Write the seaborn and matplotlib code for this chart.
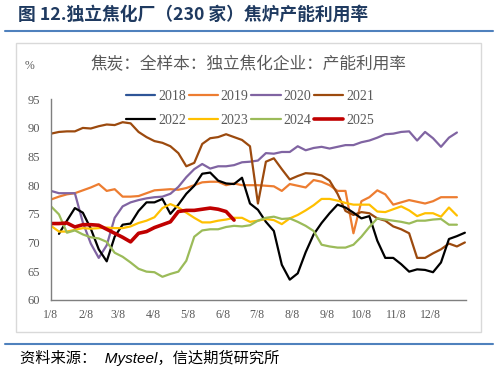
import numpy as np
import pandas as pd
import matplotlib
matplotlib.use("Agg")
import matplotlib.pyplot as plt
from matplotlib.lines import Line2D
from matplotlib.patches import Rectangle
import seaborn as sns

sns.set_theme(style="white")
plt.rcParams["font.family"] = ["Noto Sans CJK SC", "DejaVu Sans"]

NAN = np.nan

# 周度数据（第 0 周 = 1/8），数值读自原图
Y2019 = [77.5, 78.0, 78.4, 78.6, 79.1, 79.6, 80.2, 79.0, 79.3, 78.0, 78.0, 78.1, 78.6, 79.1,
         79.2, 79.3, 79.2, 79.5, 80.0, 80.5, 80.6, 80.6, 80.0, 80.3, 80.0, 80.0, 80.0,
         79.9, 79.8, 79.0, 80.2, 79.9, 79.6, 80.9, 80.6, 80.0, 79.0, 79.0, 71.6, 77.2,
         77.9, 79.1, 78.4, 76.6, 77.0, 77.4, 77.1, 76.8, 77.2, 77.9, 77.9, 77.9]
Y2020 = [79.0, 78.6, 78.6, 78.6, 73.5, 69.8, 67.3, 69.5, 74.3, 76.3, 77.0, 77.4, 77.7, 77.9,
         78.0, 78.5, 79.7, 81.4, 82.8, 83.7, 82.9, 83.3, 83.3, 83.5, 84.0, 84.1, 84.3,
         85.6, 85.5, 85.8, 85.8, 86.8, 86.1, 86.5, 86.7, 86.4, 86.7, 87.0, 87.0, 87.5,
         87.8, 88.3, 88.9, 89.0, 89.3, 89.4, 87.8, 89.3, 88.2, 86.7, 88.3, 89.2]
Y2021 = [89.0, 89.3, 89.4, 89.4, 90.0, 89.9, 90.3, 90.6, 90.5, 91.0, 90.8, 89.3, 88.4, 87.7,
         87.4, 86.8, 85.6, 83.3, 83.9, 87.2, 88.2, 88.4, 88.9, 88.4, 87.9, 86.8, 76.8,
         84.1, 84.7, 82.8, 81.0, 81.6, 82.1, 82.0, 81.7, 80.8, 78.5, 75.5, 74.8, 75.3,
         75.1, 74.2, 73.8, 72.8, 72.3, 71.6, 67.3, 67.3, 68.1, 68.8, 69.8, 69.3, 70.0]
Y2022 = [NAN, 71.5, 73.8, 76.0, 75.2, 72.4, 68.8, 66.7, 71.0, 73.1, 73.3, 75.5, 77.0, 77.0,
         77.6, 75.0, 76.6, 78.5, 79.9, 82.0, 82.2, 80.8, 80.3, 80.2, 81.3, 76.8, 75.7,
         73.6, 72.0, 66.1, 63.5, 64.6, 68.3, 71.4, 73.4, 75.1, 76.6, 76.1, 75.2, 74.2,
         74.6, 70.3, 67.3, 67.3, 66.2, 64.9, 65.3, 65.2, 64.8, 66.5, 70.6, 71.1, 71.7]
Y2023 = [72.9, 71.9, 71.9, 72.2, 72.5, 72.4, 72.5, 72.6, 72.5, 72.5, 72.8, 73.4, 73.8, 74.4,
         76.0, 76.7, 76.1, 75.2, 74.3, 73.5, 73.5, 73.8, 74.0, 74.3, 74.3, 73.6, 73.8,
         74.1, 73.9, 73.2, 74.2, 74.8, 75.6, 76.5, 77.6, 77.6, 77.3, 76.9, 76.6, 76.6,
         76.6, 75.4, 75.3, 75.8, 76.3, 75.6, 74.6, 75.1, 75.1, 74.5, 76.1, 74.7]
Y2024 = [76.3, 74.9, 71.7, 72.1, 71.4, 70.9, 70.7, 70.1, 68.2, 67.5, 66.5, 65.4, 64.9, 64.8,
         64.0, 64.5, 64.9, 66.8, 71.0, 72.1, 72.3, 72.3, 72.7, 72.9, 72.8, 73.0, 73.8,
         74.3, 74.5, 74.1, 74.2, 73.6, 72.9, 72.0, 69.6, 69.3, 69.1, 69.1, 69.6, 71.0,
         72.7, 74.2, 74.0, 73.8, 73.6, 73.3, 73.8, 73.8, 74.0, 74.1, 73.1, 73.1]
Y2025 = [73.3, 73.3, 73.4, 72.7, 73.1, 73.1, 73.0, 72.3, 71.6, 70.9, 70.1, 71.6, 71.9, 72.6,
         73.1, 73.6, 75.4, 75.6, 75.6, 75.8, 76.0, 75.8, 75.4, 73.9]

YEARS = ["2018", "2019", "2020", "2021", "2022", "2023", "2024", "2025"]
SERIES = {"2018": [], "2019": Y2019, "2020": Y2020, "2021": Y2021, "2022": Y2022,
          "2023": Y2023, "2024": Y2024, "2025": Y2025}
COLORS = {"2018": "#2E5597", "2019": "#ED7D31", "2020": "#8064A2", "2021": "#9C4A0E",
          "2022": "#000000", "2023": "#FFC000", "2024": "#9BBB59", "2025": "#C00000"}

TICK_DAYS = [7, 38, 66, 97, 127, 158, 188, 219, 250, 280, 311, 341]
TICK_LABELS = ["1/8", "2/8", "3/8", "4/8", "5/8", "6/8", "7/8", "8/8", "9/8",
               "10/8", "11/8", "12/8"]
Y_TICKS = [60, 65, 70, 75, 80, 85, 90, 95]

GRAY = "#595959"
NAVY = "#1F3A60"
BLUE_LINE = "#4F81BD"

rows = []
for yr in YEARS:
    for i, v in enumerate(SERIES[yr]):
        rows.append({"year": yr, "day": 7 + 7 * i, "value": v})
df = pd.DataFrame(rows, columns=["year", "day", "value"]).dropna()

fig = plt.figure(figsize=(4.98, 3.71), dpi=100)
ax = fig.add_axes([51 / 498, 1 - 299.7 / 371, 415 / 498, 200.4 / 371])

handles = []
for yr in YEARS:
    lw = 2.6 if yr == "2025" else 1.6
    sub = df[df["year"] == yr]
    if len(sub):
        sns.lineplot(data=sub, x="day", y="value", ax=ax, color=COLORS[yr],
                     linewidth=lw, legend=False)
    handles.append(Line2D([], [], color=COLORS[yr], linewidth=lw, label=yr))

ax.set_xlim(7, 372)
ax.set_ylim(60, 95)
ax.set_xticks(TICK_DAYS + [372])
ax.set_xticklabels(TICK_LABELS + [""])
ax.set_yticks(Y_TICKS)
ax.set_xlabel("")
ax.set_ylabel("")
ax.spines[["top", "right"]].set_visible(False)
for s in ["left", "bottom"]:
    ax.spines[s].set_color("#7F7F7F")
    ax.spines[s].set_linewidth(1.0)
ax.tick_params(axis="x", direction="in", length=3, color="#7F7F7F", pad=7,
               labelsize=8.5, labelcolor=GRAY)
ax.tick_params(axis="y", direction="out", length=3, color="#7F7F7F", pad=5,
               labelsize=9, labelcolor=GRAY)
for lab in ax.get_xticklabels() + ax.get_yticklabels():
    lab.set_fontfamily("Liberation Serif")
ax.patch.set_alpha(0)

order = ["2018", "2022", "2019", "2023", "2020", "2024", "2021", "2025"]
hmap = {h.get_label(): h for h in handles}
fig.legend([hmap[k] for k in order], order, loc="center", ncol=4,
           bbox_to_anchor=(0.502, 0.708), frameon=False,
           prop={"family": "Liberation Serif", "size": 10},
           labelcolor=GRAY, handlelength=2.1, handletextpad=0.2,
           columnspacing=0.2, labelspacing=0.8)

# 外框、标题、分隔线
fig.add_artist(Rectangle((16 / 498, 1 - 332 / 371), 465 / 498, 289 / 371,
                         transform=fig.transFigure, fill=False,
                         edgecolor="#D9D9D9", linewidth=1.0))
fig.text(18 / 498, 1 - 15 / 371, "图 12.独立焦化厂（230 家）焦炉产能利用率",
         fontsize=12.8, fontweight="bold", color=NAVY, ha="left", va="center")
fig.add_artist(Line2D([5 / 498, 493 / 498], [1 - 31 / 371, 1 - 31 / 371],
                      transform=fig.transFigure, color=BLUE_LINE, linewidth=1.5))
fig.text(0.498, 1 - 65 / 371, "焦炭：全样本：独立焦化企业：产能利用率",
         fontsize=12, color=GRAY, ha="center", va="center")
fig.text(29 / 498, 1 - 66 / 371, "%", fontsize=8.5, color=GRAY,
         ha="center", va="center", family="Liberation Serif")
fig.add_artist(Line2D([5 / 498, 493 / 498], [1 - 344 / 371, 1 - 344 / 371],
                      transform=fig.transFigure, color=BLUE_LINE, linewidth=1.5))
fig.text(20 / 498, 1 - 358 / 371, "资料来源：  Mysteel，信达期货研究所",
         fontsize=11, color="#000000", ha="left", va="center", style="italic",
         family=["Liberation Sans", "Noto Sans CJK SC"])

fig.savefig("out.png", dpi=100)
